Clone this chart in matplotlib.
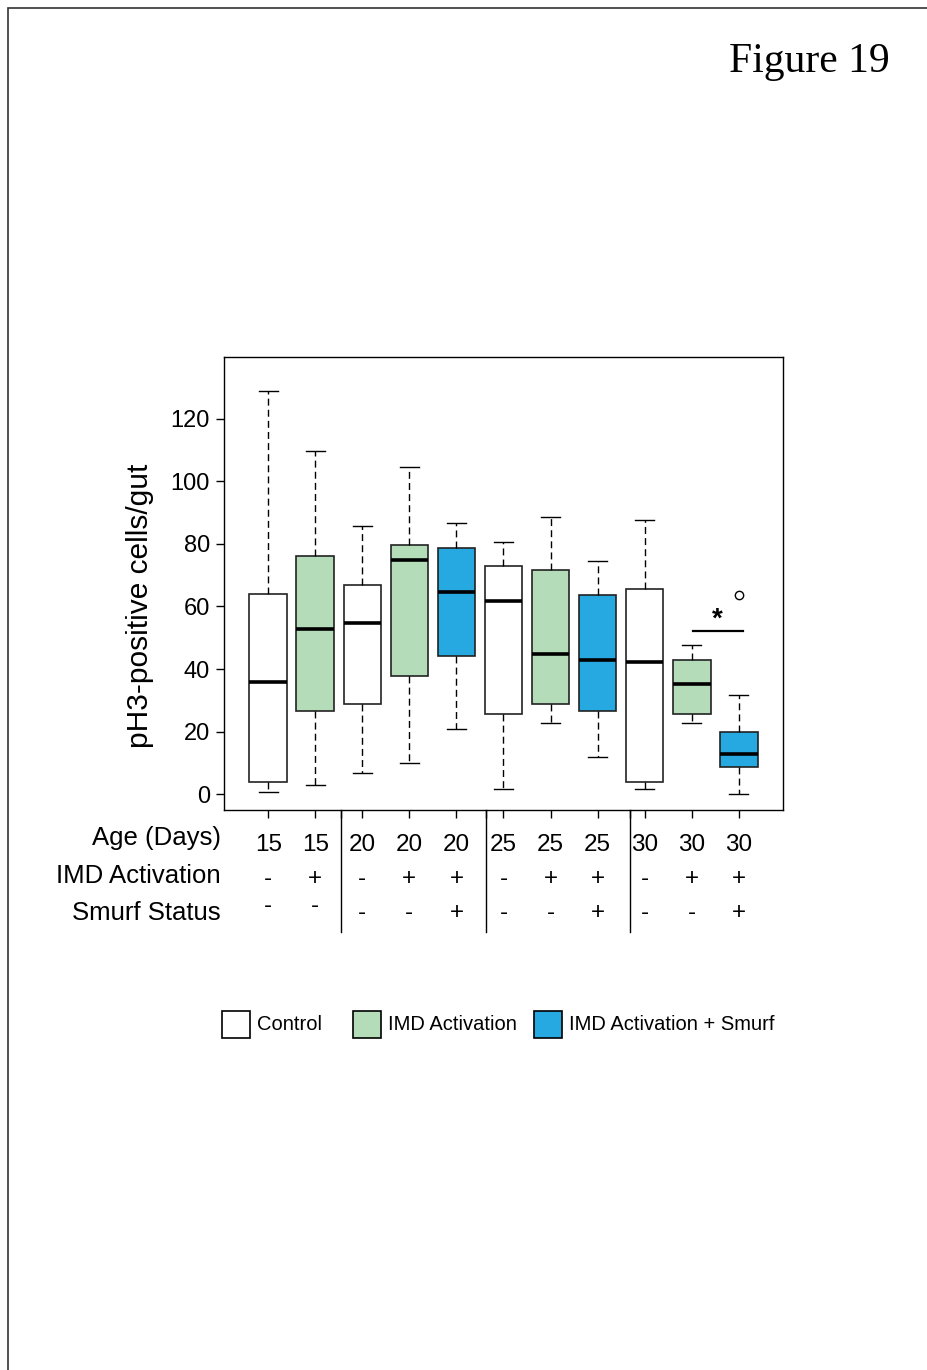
import matplotlib
matplotlib.use("Agg")
import numpy as np
from matplotlib import pyplot as plt
from matplotlib.patches import Rectangle
from matplotlib.lines import Line2D

# Box statistics (pH3-positive cells per gut)
ages = ["15", "15", "20", "20", "20", "25", "25", "25", "30", "30", "30"]
imd = ["-", "+", "-", "+", "+", "-", "+", "+", "-", "+", "+"]
smurf = ["-", "-", "-", "-", "+", "-", "-", "+", "-", "-", "+"]
groups = ["c", "i", "c", "i", "s", "c", "i", "s", "c", "i", "s"]
whislo = [0.8, 2.8, 6.8, 9.8, 20.8, 1.7, 22.7, 11.7, 1.7, 22.7, 0.0]
q1 = [3.8, 26.7, 28.8, 37.8, 44.3, 25.7, 28.8, 26.7, 3.8, 25.7, 8.6]
med = [35.8, 52.8, 54.8, 74.8, 64.7, 61.8, 44.8, 42.8, 42.3, 35.3, 12.8]
q3 = [63.9, 76.2, 66.8, 79.8, 78.8, 72.9, 71.7, 63.8, 65.7, 42.8, 19.7]
whishi = [128.8, 109.8, 85.8, 104.7, 86.8, 80.7, 88.6, 74.7, 87.8, 47.7, 31.7]
fliers = [[], [], [], [], [], [], [], [], [], [], [63.8]]
separators = [2.55, 5.62, 8.68]

colors = {"c": "#FFFFFF", "i": "#B4DCB9", "s": "#25A9E0"}
legend_labels = {"c": "Control", "i": "IMD Activation", "s": "IMD Activation + Smurf"}

W, H = 928, 1370
fig = plt.figure(figsize=(W / 100, H / 100), dpi=100)

def fx(x):
    return x / W

def fy(y):
    return 1 - y / H

sans = "Liberation Sans"
serif = "Liberation Serif"

# page border
fig.patches.append(Rectangle((fx(8), fy(1400)), fx(940) - fx(8), fy(8) - fy(1400),
                             transform=fig.transFigure, fill=False, lw=1.2, ec="#333333"))
fig.text(fx(890), fy(62), "Figure 19", ha="right", va="center", family=serif, fontsize=30)

ax = fig.add_axes([fx(224), fy(810), fx(783) - fx(224), fy(357) - fy(810)])

stats = []
for k in range(len(med)):
    stats.append(dict(whislo=whislo[k], q1=q1[k], med=med[k], q3=q3[k],
                      whishi=whishi[k], fliers=fliers[k]))
pos = np.arange(1, len(med) + 1)
bp = ax.bxp(stats, positions=pos, widths=0.8, patch_artist=True, showfliers=True,
            boxprops=dict(lw=1.2, ec="#222222"),
            medianprops=dict(color="black", lw=2.6, solid_capstyle="butt"),
            whiskerprops=dict(color="black", lw=1.0, ls=(0, (5, 3))),
            capprops=dict(color="black", lw=1.0),
            capwidths=0.4,
            flierprops=dict(marker="o", mfc="none", mec="black", ms=6, mew=1.0))
for patch, g in zip(bp["boxes"], groups):
    patch.set_facecolor(colors[g])

ax.set_xlim(0.06, 11.94)
ax.set_ylim(-5.1, 139.8)
ax.set_yticks([0, 20, 40, 60, 80, 100, 120])
ax.set_xticks(list(pos) + separators)
ax.set_xticklabels([])
ax.tick_params(axis="both", direction="out", length=6, width=1, color="black")
ax.tick_params(axis="y", labelsize=17, pad=4)
for lab in ax.get_yticklabels():
    lab.set_family(sans)
for sp in ax.spines.values():
    sp.set_linewidth(1.0)
ax.set_ylabel("pH3-positive cells/gut", family=sans, fontsize=21.5, va="center")
ax.yaxis.set_label_coords(-0.150, 0.45)

# significance bar between the last two boxes
ax.plot([10.02, 11.08], [52.3, 52.3], color="black", lw=1.6)
ax.text(10.55, 51.5, "*", ha="center", va="bottom", fontsize=20, fontweight="bold", family=sans)

# condition table under the axes
tr = matplotlib.transforms.blended_transform_factory(ax.transData, fig.transFigure)
rows = [(ages, "Age (Days)", 845, 838), (imd, "IMD Activation", 879, 876), (smurf, "Smurf Status", 913, 913)]
for vals, label, yv, yl in rows:
    fig.text(fx(221), fy(yl), label, ha="right", va="center", family=sans, fontsize=18.5)
    for p, v in zip(pos, vals):
        yy = yv
        if label == "Smurf Status" and v == "-" and p <= 2:
            yy = 906
        ax.text(p, fy(yy), v, transform=tr, ha="center", va="center", family=sans, fontsize=17.5)
for s in separators:
    ax.add_line(Line2D([s, s], [fy(810), fy(932)], transform=tr, color="black", lw=1.0, clip_on=False))

# legend
lx = [222, 353, 534]
for x0, g in zip(lx, ["c", "i", "s"]):
    fig.patches.append(Rectangle((fx(x0), fy(1038)), fx(28), 27 / H, transform=fig.transFigure,
                                 fc=colors[g], ec="black", lw=1.2))
    fig.text(fx(x0 + 35), fy(1025), legend_labels[g], ha="left", va="center", family=sans, fontsize=14.5)

fig.savefig("out.png", dpi=100)
